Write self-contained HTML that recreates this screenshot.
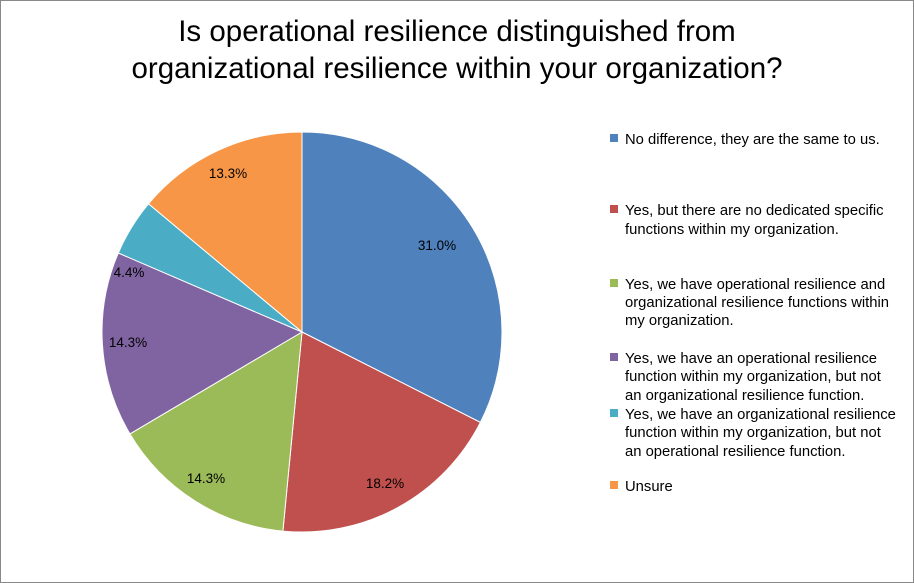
<!DOCTYPE html>
<html><head><style>
body{margin:0;background:#fff;}
svg{display:block;font-family:"Liberation Sans",sans-serif;}
</style></head><body>
<svg width="914" height="583" viewBox="0 0 914 583">
<rect x="0.5" y="0.5" width="913" height="582" fill="#fff" stroke="#888" stroke-width="1"/>
<text x="457" y="41" font-size="29.5" text-anchor="middle" fill="#000">Is operational resilience distinguished from</text>
<text x="457" y="78" font-size="29.5" text-anchor="middle" fill="#000">organizational resilience within your organization?</text>
<g stroke="#fff" stroke-width="1">
<path d="M302,332 L302,132 A200,200 0 0 1 480.4,422.4 Z" fill="#4F81BD"/>
<path d="M302,332 L480.4,422.4 A200,200 0 0 1 282.9,531.1 Z" fill="#C0504D"/>
<path d="M302,332 L282.9,531.1 A200,200 0 0 1 129.9,433.9 Z" fill="#9BBB59"/>
<path d="M302,332 L129.9,433.9 A200,200 0 0 1 118.3,253.0 Z" fill="#8064A2"/>
<path d="M302,332 L118.3,253.0 A200,200 0 0 1 148.5,203.8 Z" fill="#4BACC6"/>
<path d="M302,332 L148.5,203.8 A200,200 0 0 1 302,132 Z" fill="#F79646"/>
</g>
<g font-size="13.5" fill="#000" text-anchor="middle">
<text x="437" y="250">31.0%</text>
<text x="385" y="488">18.2%</text>
<text x="206" y="483">14.3%</text>
<text x="128" y="347">14.3%</text>
<text x="129" y="277">4.4%</text>
<text x="228" y="178">13.3%</text>
</g>
<g font-size="14.8" fill="#000">
<rect x="610" y="134" width="8" height="8" fill="#4F81BD"/>
<text x="625" y="144">No difference, they are the same to us.</text>
<rect x="610" y="205" width="8" height="8" fill="#C0504D"/>
<text x="625" y="215">Yes, but there are no dedicated specific</text>
<text x="625" y="234">functions within my organization.</text>
<rect x="610" y="279" width="8" height="8" fill="#9BBB59"/>
<text x="625" y="289">Yes, we have operational resilience and</text>
<text x="625" y="307">organizational resilience functions within</text>
<text x="625" y="325">my organization.</text>
<rect x="610" y="353" width="8" height="8" fill="#8064A2"/>
<text x="625" y="363">Yes, we have an operational resilience</text>
<text x="625" y="381">function within my organization, but not</text>
<text x="625" y="400">an organizational resilience function.</text>
<rect x="610" y="409" width="8" height="8" fill="#4BACC6"/>
<text x="625" y="419">Yes, we have an organizational resilience</text>
<text x="625" y="437">function within my organization, but not</text>
<text x="625" y="456">an operational resilience function.</text>
<rect x="610" y="481" width="8" height="8" fill="#F79646"/>
<text x="625" y="491">Unsure</text>
</g>
</svg>
</body></html>
